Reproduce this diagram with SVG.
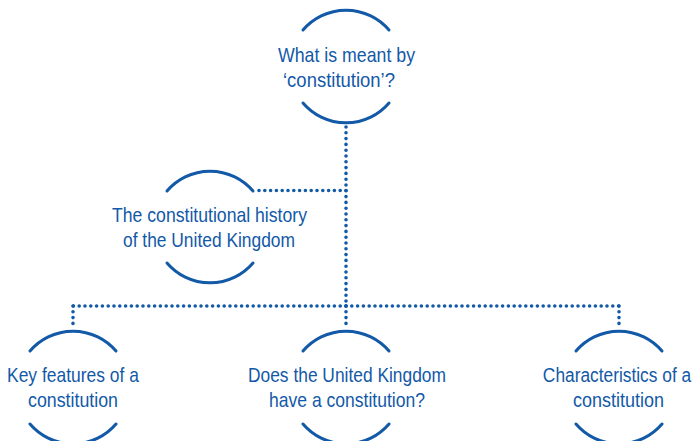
<svg xmlns="http://www.w3.org/2000/svg" width="696" height="441" viewBox="0 0 696 441">
<style>
.arc{fill:none;stroke:#1259a7;stroke-width:3;stroke-linecap:round}
.dot{fill:none;stroke:#1259a7;stroke-width:3.6;stroke-linecap:round;stroke-dasharray:0 5.8}
.lbl{font-family:"Liberation Sans",Arial,sans-serif;font-size:21px;fill:#1259a7;text-anchor:middle}
</style>
<rect width="696" height="441" fill="#fff"/>
<g id="connectors">
<line class="dot" x1="346" y1="127" x2="346" y2="306"/>
<line class="dot" x1="346" y1="190.5" x2="256" y2="190.5"/>
<line class="dot" x1="346" y1="306" x2="73" y2="306"/>
<line class="dot" x1="346" y1="306" x2="619" y2="306"/>
<line class="dot" x1="346" y1="306" x2="346" y2="327"/>
<line class="dot" x1="73" y1="306" x2="73" y2="327"/>
<line class="dot" x1="619" y1="306" x2="619" y2="327"/>
</g>
<g id="node-meaning">
<path class="arc" d="M303 30 A56.5 56.5 0 0 1 389 30"/>
<path class="arc" d="M303 103 A56.5 56.5 0 0 0 389 103"/>
<text class="lbl" x="346.5" y="62" textLength="137" lengthAdjust="spacingAndGlyphs">What is meant by</text>
<text class="lbl" x="339" y="87" textLength="112" lengthAdjust="spacingAndGlyphs">‘constitution’?</text>
</g>
<g id="node-history">
<path class="arc" d="M167 191 A56.5 56.5 0 0 1 253 191"/>
<path class="arc" d="M167 263 A56.5 56.5 0 0 0 253 263"/>
<text class="lbl" x="209.5" y="222" textLength="195" lengthAdjust="spacingAndGlyphs">The constitutional history</text>
<text class="lbl" x="209" y="247" textLength="172" lengthAdjust="spacingAndGlyphs">of the United Kingdom</text>
</g>
<g id="node-key-features">
<path class="arc" d="M30 351 A56.5 56.5 0 0 1 116 351"/>
<path class="arc" d="M30 424 A56.5 56.5 0 0 0 116 424"/>
<text class="lbl" x="73" y="382" textLength="132" lengthAdjust="spacingAndGlyphs">Key features of a</text>
<text class="lbl" x="73" y="407" textLength="90" lengthAdjust="spacingAndGlyphs">constitution</text>
</g>
<g id="node-uk">
<path class="arc" d="M303 351 A56.5 56.5 0 0 1 389 351"/>
<path class="arc" d="M303 424 A56.5 56.5 0 0 0 389 424"/>
<text class="lbl" x="347" y="382" textLength="198" lengthAdjust="spacingAndGlyphs">Does the United Kingdom</text>
<text class="lbl" x="347" y="407" textLength="156" lengthAdjust="spacingAndGlyphs">have a constitution?</text>
</g>
<g id="node-characteristics">
<path class="arc" d="M576 351 A56.5 56.5 0 0 1 662 351"/>
<path class="arc" d="M576 424 A56.5 56.5 0 0 0 662 424"/>
<text class="lbl" transform="translate(617 382) scale(0.825 1)" x="0" y="0">Characteristics of a</text>
<text class="lbl" x="618.5" y="407" textLength="91" lengthAdjust="spacingAndGlyphs">constitution</text>
</g>
</svg>
